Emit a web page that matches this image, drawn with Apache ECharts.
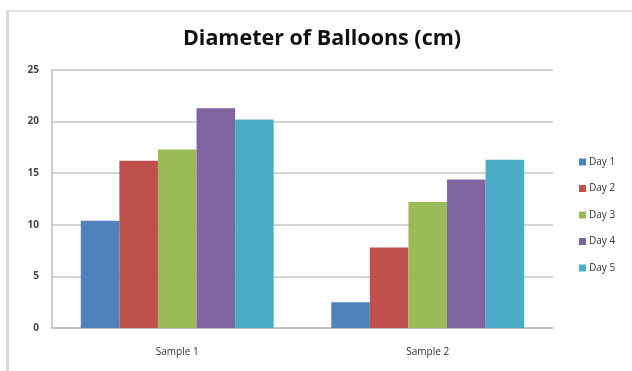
<!DOCTYPE html>
<html>
<head>
<meta charset="utf-8">
<script src="https://cdn.jsdelivr.net/npm/echarts@6/dist/echarts.min.js"></script>
<style>
  html, body { margin: 0; padding: 0; background: #fff; }
  #frame { position: absolute; left: 6px; top: 10px; right: 0; bottom: 0;
           border-left: 3px solid #d9d9d9; border-top: 2px solid #e3e3e3; }
  #chart { position: absolute; left: 0; top: 0; width: 632px; height: 371px; }
</style>
</head>
<body>
<div id="frame"></div>
<div id="chart"></div>
<script>
  // 数据
  const categories = ["Sample 1", "Sample 2"];
  const seriesNames = ["Day 1", "Day 2", "Day 3", "Day 4", "Day 5"];
  const day1 = [10.4, 2.5];
  const day2 = [16.2, 7.8];
  const day3 = [17.3, 12.2];
  const day4 = [21.3, 14.4];
  const day5 = [20.2, 16.3];
  const yTicks = [0, 5, 10, 15, 20, 25];

  const seriesData = [day1, day2, day3, day4, day5];
  const colors = ["#4F81BD", "#C0504D", "#9BBB59", "#8064A2", "#4BACC6"];

  const myChart = echarts.init(document.getElementById("chart"));

  const option = {
    color: colors,
    title: {
      text: "Diameter of Balloons (cm)",
      left: 317,
      textAlign: "center",
      top: 23,
      textStyle: {
        fontFamily: "Open Sans",
        fontWeight: "bold",
        fontSize: 21.5,
        color: "#111"
      }
    },
    legend: {
      orient: "vertical",
      left: 574,
      top: 152,
      itemWidth: 7,
      itemHeight: 7,
      itemGap: 16.5,
      icon: "rect",
      textStyle: { fontFamily: "Open Sans", fontSize: 10, color: "#333", padding: [0, 0, 0, -2] },
      data: seriesNames
    },
    grid: { left: 52, right: 79, top: 70, bottom: 43 },
    xAxis: {
      type: "category",
      data: categories,
      axisTick: { show: false },
      axisLine: { lineStyle: { color: "#bdbdbd", width: 1.5 } },
      axisLabel: { fontFamily: "Open Sans", fontSize: 10, color: "#333", margin: 19 }
    },
    yAxis: {
      type: "value",
      min: yTicks[0],
      max: yTicks[yTicks.length - 1],
      interval: 5,
      axisLine: { show: true, lineStyle: { color: "#bdbdbd", width: 1.5 } },
      axisTick: { show: false },
      splitLine: { lineStyle: { color: "#c4c4c4", width: 1.5 } },
      axisLabel: { fontFamily: "Open Sans", fontSize: 10, fontWeight: "bold", color: "#444", margin: 13 }
    },
    series: seriesNames.map((name, i) => ({
      name: name,
      type: "bar",
      data: seriesData[i],
      barGap: "0%",
      barCategoryGap: "23%",
      itemStyle: { color: colors[i] }
    }))
  };

  myChart.setOption(option);
</script>
</body>
</html>
